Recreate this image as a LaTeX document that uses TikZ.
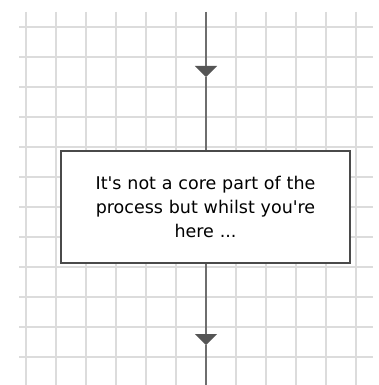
\documentclass[tikz,border=0pt]{standalone}
\usepackage{fontspec}
\setmainfont{DejaVu Sans}
\usetikzlibrary{arrows.meta, positioning}

\definecolor{gridgray}{HTML}{DCDCDC}
\definecolor{flowgray}{HTML}{6E6E6E}
\definecolor{tipgray}{HTML}{555555}
\definecolor{boxedge}{HTML}{4A4A4A}

\begin{document}
\begin{tikzpicture}[
    x=1pt, y=-1pt,
    gridline/.style={gridgray, line width=2pt},
    flow/.style={flowgray, line width=2pt},
    tipflow/.style={flow, -{Triangle[width=22pt, length=11pt, color=tipgray]}},
    stepbox/.style={draw=boxedge, fill=white, line width=2pt, minimum width=289pt, minimum height=112pt, align=center, text width=270pt, inner sep=0pt, font=\fontsize{17.5}{24}\selectfont, text=black}
]

% canvas
\fill[white] (0,0) rectangle (378,385);
\useasboundingbox (0,0) rectangle (378,385);

% grid
\foreach \gx in {26,56,...,356}
    \draw[gridline] (\gx,12) -- (\gx,385);
\foreach \gy in {27,57,...,357}
    \draw[gridline] (19,\gy) -- (373,\gy);

% step
\node[stepbox] (aside) at (205.5,207) {It\textquotesingle s not a core part of the\\process but whilst you\textquotesingle re\\here ...};

% flow ends
\coordinate (intop) at (206,12);
\coordinate (tipin) at (206,77);
\coordinate (tipout) at (206,345);
\coordinate (outbot) at (206,385);

% flow
\draw[tipflow] (intop) -- (tipin);
\draw[flow] (tipin) -- (aside.north -| tipin);
\draw[tipflow] (aside.south -| tipout) -- (tipout);
\draw[flow] (tipout) -- (outbot);

\end{tikzpicture}
\end{document}
